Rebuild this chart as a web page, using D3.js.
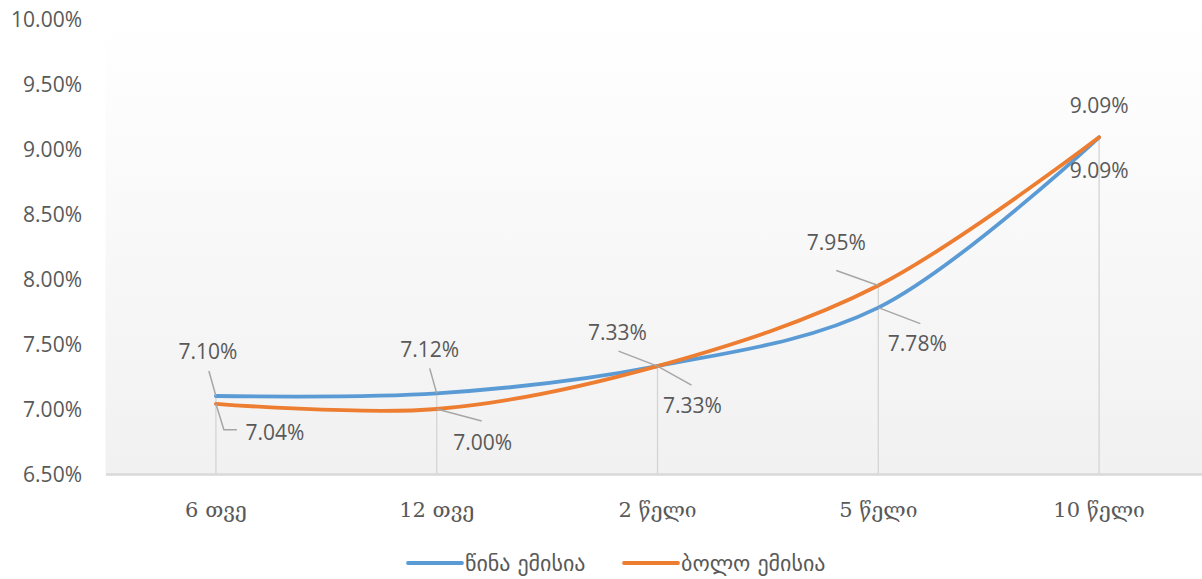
<!DOCTYPE html>
<html><head><meta charset="utf-8">
<script src="https://cdn.jsdelivr.net/npm/d3@7"></script>
<style>body{margin:0;background:#fff}svg{display:block}</style>
</head><body>
<svg id="c" width="1202" height="579"></svg>
<script>
const categories = ["6 თვე","12 თვე","2 წელი","5 წელი","10 წელი"];
const seriesNames = ["წინა ემისია","ბოლო ემისია"];
const prevIssue = [7.10, 7.12, 7.33, 7.78, 9.09];
const lastIssue = [7.04, 7.00, 7.33, 7.95, 9.09];
const yTicks = [6.5, 7.0, 7.5, 8.0, 8.5, 9.0, 9.5, 10.0];
const colors = ["#5b9bd5", "#ed7d31"];

(function(){
const svg = d3.select("#c");
const pLeft = 105.5, pRight = 1209.5, pTop = 19, pBottom = 474;
const x = d3.scaleBand().domain(categories).range([pLeft, pRight]);
const xc = c => x(c) + x.bandwidth()/2;
const y = d3.scaleLinear().domain([6.5, 10]).range([pBottom, pTop]);

const defs = svg.append("defs");
const g = defs.append("linearGradient").attr("id","bg").attr("x1",0).attr("y1",0).attr("x2",0).attr("y2",1);
g.append("stop").attr("offset","0%").attr("stop-color","#ffffff");
g.append("stop").attr("offset","100%").attr("stop-color","#f1f1f1");
svg.append("rect").attr("x",pLeft).attr("y",pTop).attr("width",1202-pLeft).attr("height",pBottom-pTop).attr("fill","url(#bg)");

// y axis labels
const yAxis = d3.axisLeft(y).tickValues(yTicks).tickFormat(d => d.toFixed(2)+"%").tickSize(0).tickPadding(0);
const ya = svg.append("g").attr("transform","translate(82,0)").call(yAxis);
ya.select(".domain").remove();
ya.selectAll("text").attr("font-family","Open Sans, sans-serif").attr("font-size",21).attr("fill","#595959").attr("dy","0.35em");

// drop lines
svg.append("g").selectAll("line").data(categories).join("line")
  .attr("x1", c=>xc(c)).attr("x2", c=>xc(c))
  .attr("y1", (c,i)=>y(Math.max(prevIssue[i], lastIssue[i]))).attr("y2", pBottom)
  .attr("stroke","#d4d4d4").attr("stroke-width",1.3);

// x axis
const xAxis = d3.axisBottom(x).tickSize(0).tickPadding(0);
const xa = svg.append("g").attr("transform",`translate(0,${pBottom})`).call(xAxis);
xa.select(".domain").attr("stroke","#d9d9d9").attr("stroke-width",2.5);
xa.selectAll("text").attr("font-family","DejaVu Serif, serif").attr("font-size",21).attr("fill","#595959").attr("y",36).attr("dy","0.35em");

// lines
const line = d3.line().x((d,i)=>xc(categories[i])).y(d=>y(d)).curve(d3.curveCatmullRom.alpha(0.5));
[prevIssue, lastIssue].forEach((s, k) => {
  svg.append("path").datum(s).attr("d", line).attr("fill","none")
    .attr("stroke", colors[k]).attr("stroke-width",3.8).attr("stroke-linecap","round");
});

// data labels with leader lines (label offsets relative to point)
const labelFont = "Open Sans, sans-serif";
const prevLabelPos = [[-8,-44],[-7,-44],[-40,-33],[39,36],[0,-32]];
const lastLabelPos = [[59,29],[46,34],[35,40],[-42,-43],[0,33]];
const prevLeader = [[[0,0],[-7,-25]],[[0,0],[-7,-25]],[[0,0],[-39,-15]],[[0,0],[42,16]],null];
const lastLeader = [[[0,0],[8,26],[21,26]],[[0,0],[45,12]],[[0,0],[34,19]],[[0,0],[-42,-15]],null];
function drawLabels(vals, pos, leaders){
  vals.forEach((v,i)=>{
    const px = xc(categories[i]), py = y(v);
    if (leaders[i]) {
      svg.append("path").attr("d", d3.line()(leaders[i].map(p=>[px+p[0], py+p[1]])))
        .attr("fill","none").attr("stroke","#a6a6a6").attr("stroke-width",1.5);
    }
    svg.append("text").attr("x", px+pos[i][0]).attr("y", py+pos[i][1]).attr("text-anchor","middle")
      .attr("dy","0.35em").attr("font-family",labelFont).attr("font-size",21).attr("fill","#595959")
      .text(v.toFixed(2)+"%");
  });
}
drawLabels(prevIssue, prevLabelPos, prevLeader);
drawLabels(lastIssue, lastLabelPos, lastLeader);

// legend
const legend = svg.append("g");
const legX = [408, 624];
seriesNames.forEach((n,k)=>{
  legend.append("line").attr("x1",legX[k]).attr("x2",legX[k]+54).attr("y1",563).attr("y2",563)
    .attr("stroke",colors[k]).attr("stroke-width",3.8).attr("stroke-linecap","round");
  legend.append("text").attr("x",legX[k]+57).attr("y",563).attr("dy","0.35em")
    .attr("font-family","DejaVu Sans, sans-serif").attr("font-size",22).attr("fill","#595959").text(n);
});
})();
</script>
</body></html>
